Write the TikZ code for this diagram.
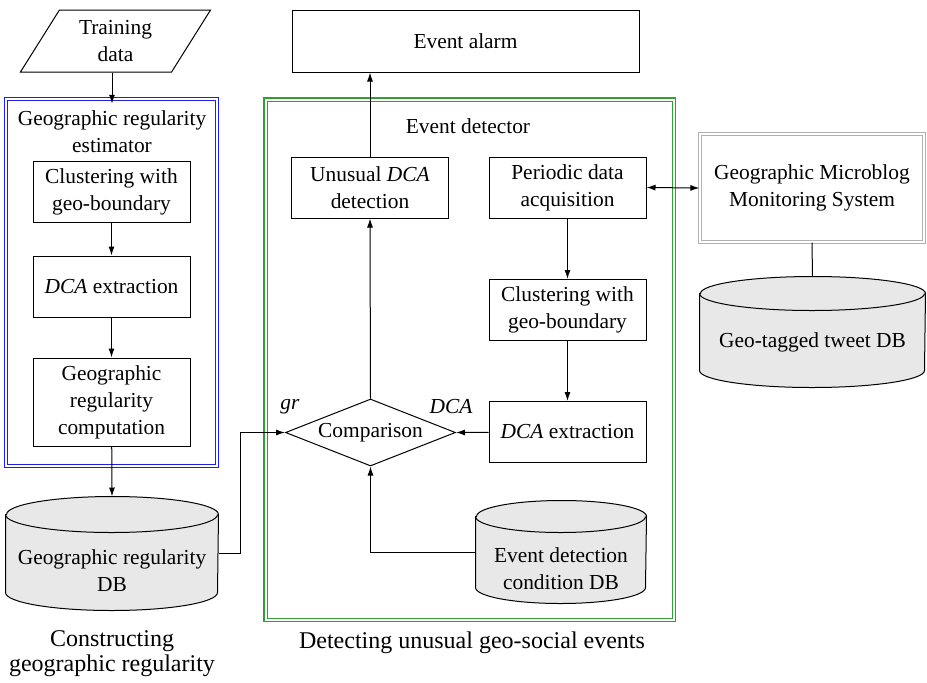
\documentclass[tikz,border=0pt]{standalone}
\usepackage{fontspec}
\setmainfont{Liberation Serif}
\usetikzlibrary{shapes.geometric,arrows.meta,positioning}

\definecolor{dbgray}{HTML}{E8E8E8}
\definecolor{estblue}{HTML}{2020E0}
\definecolor{detgreen}{HTML}{30A030}

% database drum drawn round a named node: name, half width, end radius
\newcommand{\dbshape}[3]{%
  \draw[fill=dbgray] ([yshift=-#3]#1.north west) -- ([yshift=#3]#1.south west)
    arc[start angle=180, end angle=360, x radius=#2, y radius=#3]
    -- ([yshift=-#3]#1.north east)
    arc[start angle=0, end angle=180, x radius=#2, y radius=#3] -- cycle;
  \draw ([yshift=-#3]#1.north west) arc[start angle=180, end angle=360, x radius=#2, y radius=#3];
}

\tikzset{
  procbox/.style={draw, rectangle, align=center, minimum width=78.5pt, minimum height=30.5pt, inner sep=1pt},
  dbnode/.style={rectangle, inner sep=0pt},
  frame/.style={draw=#1, double, double distance=1pt, line width=0.6pt, rectangle},
  flow/.style={-{Latex[length=4.5pt,width=3pt]}},
  caption/.style={align=center, font=\fontsize{12}{12.5}\selectfont},
}

\begin{document}
\begin{tikzpicture}[x=0.5pt, y=-0.5pt, line width=0.5pt, font=\fontsize{10.7}{13.5}\selectfont]
  \useasboundingbox (0,0) rectangle (927,682);

  % outer frames
  \node[frame=estblue, minimum width=105.5pt, minimum height=183.5pt] (estimator) at (111.5,282.5) {};
  \node[frame=detgreen, minimum width=204.25pt, minimum height=260.25pt] (detector) at (469.75,359.75) {};
  \node (estlabel) at (112,132) [align=center] {Geographic regularity\\estimator};
  \node (detlabel) at (468,126) {Event detector};

  % input and output
  \node[draw, trapezium, trapezium left angle=58.5, trapezium right angle=121.5, trapezium stretches=true,
        minimum width=95.5pt, minimum height=31pt, align=center, inner sep=0pt] (train) at (115.5,41) {Training\\data};
  \node[procbox, minimum width=173.5pt, minimum height=31pt] (alarm) at (465.5,41) {Event alarm};

  % estimator column
  \node[procbox] (clusA) at (111.5,191.5) {Clustering with\\geo-boundary};
  \node[procbox] (dcaA)  at (111.5,286.5) {\textit{DCA} extraction};
  \node[procbox, minimum height=44pt] (grcomp) at (111.5,402) {Geographic\\regularity\\computation};
  \node[dbnode, minimum width=106pt, minimum height=56.5pt] (grdb) at (112,553.5) {};
  \dbshape{grdb}{53pt}{9pt}
  \node[align=center] (grdbtext) at (112,571) {Geographic regularity\\DB};

  % detector column
  \node[procbox] (unusual) at (370,187.5) {Unusual \textit{DCA}\\detection};
  \node[procbox] (periodic) at (567.5,187.5) {Periodic data\\acquisition};
  \node[procbox] (clusB) at (567.5,310) {Clustering with\\geo-boundary};
  \node[procbox] (dcaB)  at (567.5,432) {\textit{DCA} extraction};
  \node[draw, diamond, aspect=2.54, minimum width=85pt, minimum height=33.5pt, inner sep=0pt] (cmp) at (370.5,432.5) {Comparison};
  \node[dbnode, minimum width=85pt, minimum height=51pt] (eddb) at (561,552) {};
  \dbshape{eddb}{42.5pt}{8pt}
  \node[align=center] (eddbtext) at (561,569) {Event detection\\condition DB};

  \node (grlabel) at (290,407) {\textit{gr}};
  \node (dcalabel) at (451,407) {\textit{DCA}};

  % monitoring system
  \node[frame=gray!60, fill=white, minimum width=112pt, minimum height=54pt, align=center] (gmms) at (812,188)
        {Geographic Microblog\\Monitoring System};
  \node[dbnode, minimum width=112.5pt, minimum height=55pt] (tweetdb) at (812.5,332) {};
  \dbshape{tweetdb}{56.25pt}{8.5pt}
  \node (tweetdbtext) at (812.5,342) {Geo-tagged tweet DB};

  % captions
  \node[caption] (capA) at (112,654) {Constructing\\geographic regularity};
  \node[caption] (capB) at (472,643) {Detecting unusual geo-social events};

  % connectors
  \draw[flow] (train.south -| estlabel.north) -- (estlabel.north);
  \draw[flow] (clusA) -- (dcaA);
  \draw[flow] (dcaA) -- (grcomp);
  \draw[flow] (grcomp) -- (grdb.north);
  \draw[flow] (grdb.east) -- ++(22,0) |- (cmp.west);
  \draw[flow] (cmp.north) -- (unusual.south);
  \draw[flow] (unusual.north) -- (unusual.north |- alarm.south);
  \draw[{Latex[length=4.5pt,width=3pt]}-{Latex[length=4.5pt,width=3pt]}] (periodic.east) -- (gmms.west);
  \draw (gmms.south) -- (tweetdb.north);
  \draw[flow] (periodic) -- (clusB);
  \draw[flow] (clusB) -- (dcaB);
  \draw[flow] (dcaB) -- (cmp.east);
  \draw[flow] (eddb.west) -| (cmp.south);

\end{tikzpicture}
\end{document}
